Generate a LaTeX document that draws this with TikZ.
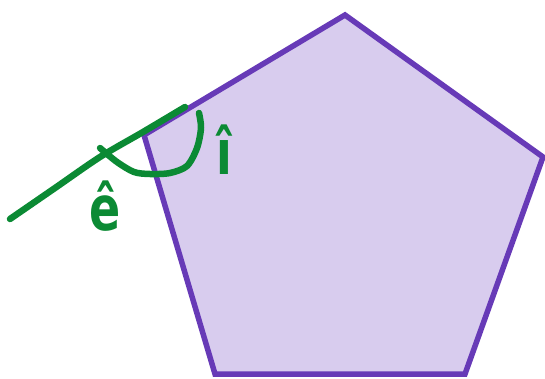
\documentclass[tikz,border=0pt]{standalone}
\usepackage{fontspec}
\setmainfont{DejaVu Sans}
\definecolor{penline}{HTML}{673AB7}
\definecolor{penfill}{HTML}{D8CCEE}
\definecolor{pengreen}{HTML}{0B8A34}
\begin{document}
\begin{tikzpicture}[x=1pt,y=-1pt,
  polyedge/.style={draw=penline,fill=penfill,line width=5.5pt,line join=miter},
  greenstroke/.style={draw=pengreen,line width=6.5pt,line cap=round,line join=round},
  anglelabel/.style={text=pengreen,font=\fontsize{46}{46}\selectfont\bfseries,inner sep=0pt,yscale=1.35}]
\useasboundingbox (0,0) rectangle (545,379);
\coordinate (vt) at (345,15);
\coordinate (vr) at (543,157);
\coordinate (vbr) at (465,374);
\coordinate (vbl) at (215,374);
\coordinate (vl) at (144,135);
\draw[polyedge] (vt) -- (vr) -- (vbr) -- (vbl) -- (vl) -- cycle;
\coordinate (ls) at (10,219);
\coordinate (le) at (185,107);
\draw[greenstroke] plot[smooth] coordinates {(10,219) (55,188) (100,157) (143,132) (185,107)};
\draw[greenstroke] plot[smooth] coordinates {(100,148) (117,162) (134,172) (150,174) (170,173) (187,166) (197,148) (201,128) (199,113)};
\node[anglelabel] (e) at (105,206) {ê};
\node[anglelabel] (i) at (224,150) {î};
\end{tikzpicture}
\end{document}
